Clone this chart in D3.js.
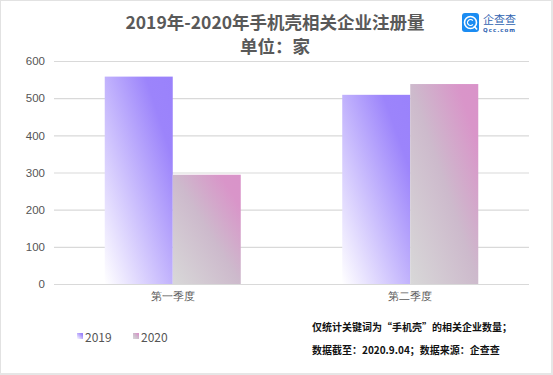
<!DOCTYPE html>
<html>
<head>
<meta charset="utf-8">
<script src="https://cdn.jsdelivr.net/npm/d3@7"></script>
<style>
  html, body { margin: 0; padding: 0; background: #fff; }
  svg { display: block; font-family: "Noto Sans CJK SC", "Noto Sans", sans-serif; }
</style>
</head>
<body>
<div id="chart"></div>
<script>
// chart data
const categories = ['第一季度', '第二季度'];
const series = ['2019', '2020'];
const values2019 = [558, 509];
const values2020 = [294, 538];
const yTicks = [0, 100, 200, 300, 400, 500, 600];
const titleLines = ['2019年-2020年手机壳相关企业注册量', '单位：家'];
const noteLines = ['仅统计关键词为“手机壳”的相关企业数量；', '数据截至：2020.9.04；数据来源：企查查'];

const W = 553, H = 375;
const margin = {top: 61, right: 24, bottom: 91, left: 54};

let svg = d3.select('#chart')
  .append('svg')
    .attr('width', W)
    .attr('height', H);

// frame
svg.append('rect')
  .attr('x', 0.5).attr('y', 0.5)
  .attr('width', W - 2).attr('height', H - 2)
  .attr('fill', '#fff')
  .attr('stroke', '#e2e2e2');
svg.append('line')
  .attr('x1', W - 1).attr('x2', W - 1).attr('y1', 0).attr('y2', H)
  .attr('stroke', '#e6e6e6').attr('stroke-width', 2);
svg.append('line')
  .attr('x1', 0).attr('x2', W).attr('y1', H - 1).attr('y2', H - 1)
  .attr('stroke', '#e6e6e6').attr('stroke-width', 2);

// gradients, one per series
let defs = svg.append('defs');
let gradStops = {
  '2019': [['0', '#ffffff'], ['0.8', '#9c84fb'], ['1', '#9a82fb']],
  '2020': [['0', '#d8d8d8'], ['0.5', '#cdbacc'], ['0.85', '#d995c9'], ['1', '#d993c9']]
};
series.forEach(function(s) {
  let g = defs.append('linearGradient')
    .attr('id', 'grad' + s)
    .attr('x1', 0).attr('y1', 1)
    .attr('x2', 1).attr('y2', 0);
  gradStops[s].forEach(function(st) {
    g.append('stop').attr('offset', st[0]).attr('stop-color', st[1]);
  });
});

// scales
let x = d3.scaleBand()
  .domain(categories)
  .range([margin.left, W - margin.right])
  .padding(0);
let xSub = d3.scaleBand()
  .domain(series)
  .range([0, x.bandwidth()])
  .paddingInner(0)
  .paddingOuter(0.746);
let y = d3.scaleLinear()
  .domain([0, 600])
  .range([H - margin.bottom, margin.top]);

// grid + y labels
let yAxis = svg.append('g')
  .attr('transform', 'translate(' + margin.left + ',0)')
  .call(d3.axisLeft(y).tickValues(yTicks)
    .tickSize(-(W - margin.left - margin.right)).tickPadding(9));
yAxis.select('.domain').remove();
yAxis.selectAll('.tick line').attr('stroke', '#d9d9d9').attr('stroke-width', 1.2);
yAxis.selectAll('.tick text')
  .attr('fill', '#555')
  .style('font-size', '11.5px');

// bars
let rows = categories.map(function(c, i) {
  return {cat: c, vals: [{s: '2019', v: values2019[i]}, {s: '2020', v: values2020[i]}]};
});
let groups = svg.selectAll('.grp')
  .data(rows)
  .enter()
  .append('g')
    .attr('class', 'grp')
    .attr('transform', function(d) { return 'translate(' + x(d.cat) + ',0)'; });
groups.selectAll('rect')
  .data(function(d) { return d.vals; })
  .enter()
  .append('rect')
    .attr('x', function(d) { return xSub(d.s); })
    .attr('y', function(d) { return y(d.v); })
    .attr('width', xSub.bandwidth())
    .attr('height', function(d) { return y(0) - y(d.v); })
    .attr('fill', function(d) { return 'url(#grad' + d.s + ')'; });

// x labels
let xAxis = svg.append('g')
  .attr('transform', 'translate(0,' + y(0) + ')')
  .call(d3.axisBottom(x).tickSize(0).tickPadding(9));
xAxis.select('.domain').remove();
xAxis.selectAll('.tick text')
  .attr('fill', '#595959')
  .style('font-size', '10.5px');

// title
svg.selectAll('.title')
  .data(titleLines)
  .enter()
  .append('text')
    .attr('class', 'title')
    .attr('x', 275)
    .attr('y', function(d, i) { return 29 + i * 24; })
    .attr('text-anchor', 'middle')
    .attr('fill', '#595959')
    .style('font-size', '17.5px')
    .style('font-weight', 'bold')
    .text(function(d) { return d; });

// logo
let logo = svg.append('g').attr('transform', 'translate(462,13)');
logo.append('rect')
  .attr('width', 17).attr('height', 19).attr('rx', 3)
  .attr('fill', '#1b8cf2');
logo.append('circle')
  .attr('cx', 8.5).attr('cy', 9.5).attr('r', 6)
  .attr('fill', 'none').attr('stroke', '#fff').attr('stroke-width', 1.6);
logo.append('path')
  .attr('d', d3.arc()({innerRadius: 2.4, outerRadius: 3.6, startAngle: 0.7, endAngle: 2 * Math.PI - 0.7}))
  .attr('transform', 'translate(8.5,9.5) rotate(90)')
  .attr('fill', '#fff');
logo.append('line')
  .attr('x1', 12).attr('y1', 13).attr('x2', 15).attr('y2', 16.5)
  .attr('stroke', '#fff').attr('stroke-width', 1.6);
svg.append('text')
  .attr('x', 483).attr('y', 24)
  .attr('fill', '#2f62b0')
  .style('font-size', '11px')
  .text('企查查');
svg.append('text')
  .attr('x', 483).attr('y', 32)
  .attr('fill', '#2f62b0')
  .style('font-size', '5.5px')
  .style('font-weight', 'bold')
  .style('letter-spacing', '1px')
  .style('font-family', 'DejaVu Sans')
  .text('Qcc.com');

// legend
let legend = svg.selectAll('.leg')
  .data(series)
  .enter()
  .append('g')
    .attr('class', 'leg')
    .attr('transform', function(d, i) { return 'translate(' + (77 + i * 56) + ',333)'; });
legend.append('rect')
  .attr('width', 6).attr('height', 6)
  .attr('fill', function(d) { return 'url(#grad' + d + ')'; });
legend.append('text')
  .attr('x', 8).attr('y', 8.5)
  .attr('fill', '#555')
  .style('font-size', '12px')
  .text(function(d) { return d; });

// notes
svg.selectAll('.note')
  .data(noteLines)
  .enter()
  .append('text')
    .attr('class', 'note')
    .attr('x', 312)
    .attr('y', function(d, i) { return 331 + i * 23; })
    .attr('fill', '#111')
    .style('font-size', '10px')
    .style('font-weight', 'bold')
    .text(function(d) { return d; });
</script>
</body>
</html>
